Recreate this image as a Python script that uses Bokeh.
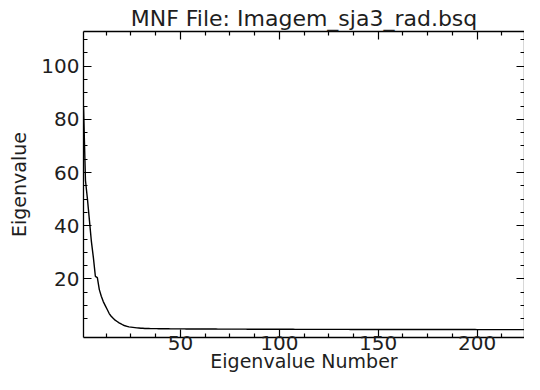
from bokeh.plotting import figure
from bokeh.models import LinearAxis, FixedTicker, Range1d, CustomJSTickFormatter
from bokeh.embed import file_html
from bokeh.resources import INLINE

title_text = "MNF File: Imagem_sja3_rad.bsq"
x_label = "Eigenvalue Number"
y_label = "Eigenvalue"

# first eigenvalues
eig_head = [85.0, 57.0, 50.0, 42.0, 34.0, 28.0, 21.0, 20.5, 16.0, 13.5,
            11.5, 10.0, 8.5, 7.0, 6.0, 5.2, 4.5, 4.0, 3.5, 3.1,
            2.7, 2.4, 2.2, 2.0, 1.9, 1.8, 1.7, 1.6, 1.55, 1.5, 1.45]
# remaining eigenvalues (flat tail near the bottom axis)
eig_tail = [1.40, 1.38, 1.37, 1.35, 1.34, 1.33, 1.32, 1.31, 1.30, 1.29,
            1.28, 1.28, 1.27, 1.26, 1.26, 1.25, 1.25, 1.24, 1.24, 1.23,
            1.23, 1.22, 1.22, 1.21, 1.21, 1.20, 1.20, 1.20, 1.19, 1.19,
            1.19, 1.18, 1.18, 1.18, 1.17, 1.17, 1.17, 1.16, 1.16, 1.16,
            1.15, 1.15, 1.15, 1.15, 1.14, 1.14, 1.14, 1.14, 1.13, 1.13,
            1.13, 1.13, 1.12, 1.12, 1.12, 1.12, 1.11, 1.11, 1.11, 1.11,
            1.10, 1.10, 1.10, 1.10, 1.10, 1.09, 1.09, 1.09, 1.09, 1.09,
            1.08, 1.08, 1.08, 1.08, 1.08, 1.08, 1.07, 1.07, 1.07, 1.07,
            1.07, 1.07, 1.06, 1.06, 1.06, 1.06, 1.06, 1.06, 1.06, 1.05,
            1.05, 1.05, 1.05, 1.05, 1.05, 1.05, 1.04, 1.04, 1.04, 1.04,
            1.04, 1.04, 1.04, 1.04, 1.03, 1.03, 1.03, 1.03, 1.03, 1.03,
            1.03, 1.03, 1.02, 1.02, 1.02, 1.02, 1.02, 1.02, 1.02, 1.02,
            1.02, 1.01, 1.01, 1.01, 1.01, 1.01, 1.01, 1.01, 1.01, 1.01,
            1.01, 1.01, 1.00, 1.00, 1.00, 1.00, 1.00, 1.00, 1.00, 1.00,
            1.00, 1.00, 1.00, 1.00, 0.99, 0.99, 0.99, 0.99, 0.99, 0.99,
            0.99, 0.99, 0.99, 0.99, 0.99, 0.99, 0.98, 0.98, 0.98, 0.98,
            0.98, 0.98, 0.98, 0.98, 0.98, 0.98, 0.98, 0.98, 0.97, 0.97,
            0.97, 0.97, 0.97, 0.97, 0.97, 0.97, 0.97, 0.97, 0.97, 0.97,
            0.96, 0.96, 0.96, 0.96, 0.96, 0.96, 0.96, 0.96, 0.96, 0.96,
            0.95, 0.95, 0.95]
eigenvalues = eig_head + eig_tail
eigen_number = list(range(1, len(eigenvalues) + 1))

x_major_ticks = [50, 100, 150, 200]
y_major_ticks = [20, 40, 60, 80, 100]

FONT = "DejaVu Sans"
TXT = "#1e1e1e"

p = figure(width=524, height=374, output_backend="svg", toolbar_location=None,
           x_range=Range1d(1, 224), y_range=Range1d(-2.0, 113),
           title=title_text,
           min_border_left=83, min_border_right=0, min_border_top=31,
           min_border_bottom=0)
p.background_fill_color = "white"
p.border_fill_color = "white"
p.outline_line_color = None
p.xgrid.visible = False
p.ygrid.visible = False

p.title.text_font = FONT
p.title.text_font_size = "22px"
p.title.text_font_style = "normal"
p.title.text_color = TXT
p.title.align = "center"
p.title.standoff = 2

x_minor = [v * 12.5 for v in range(1, 18) if (v * 12.5) % 50 != 0]
y_minor = [v * 5 for v in range(1, 23) if (v * 5) % 20 != 0]
xt = FixedTicker(ticks=x_major_ticks, minor_ticks=x_minor)
yt = FixedTicker(ticks=y_major_ticks, minor_ticks=y_minor)

def style_axis(ax):
    ax.axis_line_color = "black"
    ax.axis_line_width = 1.3
    ax.major_tick_line_color = "black"
    ax.minor_tick_line_color = "black"
    ax.major_tick_line_width = 1.2
    ax.minor_tick_line_width = 1.2
    ax.major_tick_in = 8
    ax.major_tick_out = 0
    ax.minor_tick_in = 4
    ax.minor_tick_out = 0
    ax.major_label_text_font = FONT
    ax.major_label_text_font_size = "20px"
    ax.major_label_text_color = TXT
    ax.axis_label_text_font = FONT
    ax.axis_label_text_font_size = "19px"
    ax.axis_label_text_font_style = "normal"
    ax.axis_label_text_color = TXT

xa = p.xaxis[0]
xa.ticker = xt
style_axis(xa)
xa.axis_label = x_label
xa.major_label_standoff = -2
xa.axis_label_standoff = -3

ya = p.yaxis[0]
ya.ticker = yt
style_axis(ya)
ya.axis_label = y_label
ya.major_label_standoff = 4
ya.axis_label_standoff = 8

blank = CustomJSTickFormatter(code="return ''")
top = LinearAxis(ticker=xt, formatter=blank)
style_axis(top)
top.major_label_standoff = 0
top.major_label_text_font_size = "0px"
p.add_layout(top, "above")
right = LinearAxis(ticker=yt, formatter=blank)
style_axis(right)
right.major_label_standoff = 0
right.major_label_text_font_size = "0px"
p.add_layout(right, "right")

p.line(eigen_number, eigenvalues, line_color="black", line_width=1.4)

open("out.html", "w").write(file_html(p, INLINE))
